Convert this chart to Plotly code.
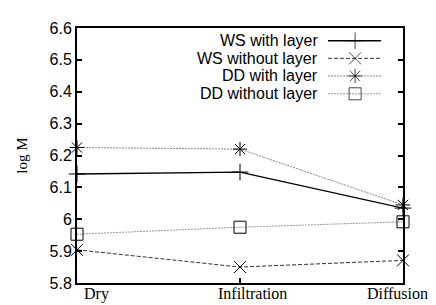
import plotly.graph_objects as go

categories = ["Dry", "Infiltration", "Diffusion"]
x_pos = [0, 1, 2]
ws_with_layer = [6.142, 6.148, 6.035]
ws_without_layer = [5.904, 5.850, 5.871]
dd_with_layer = [6.225, 6.220, 6.045]
dd_without_layer = [5.953, 5.975, 5.992]
y_ticks = [5.8, 5.9, 6.0, 6.1, 6.2, 6.3, 6.4, 6.5, 6.6]

series = [
    ("WS with layer", ws_with_layer, "solid", "black", "cross-thin-open", 1.3),
    ("WS without layer", ws_without_layer, "4px,2px", "#333333", "x-thin-open", 1),
    ("DD with layer", dd_with_layer, "2px,1px", "#888888", "asterisk-open", 1),
    ("DD without layer", dd_without_layer, "2px,1px", "#999999", "square-open", 1),
]

# legend key layout (paper coordinates)
leg_rows = [0.950, 0.881, 0.812, 0.742]
leg_text_x = 0.742
leg_line_x = [0.770, 0.853, 0.933]

fig = go.Figure()
for name, vals, dash, col, sym, lw in series:
    fig.add_trace(go.Scatter(
        x=x_pos, y=vals, name=name, mode="lines+markers",
        line=dict(color=col, width=lw, dash=dash),
        marker=dict(symbol=sym, size=12, color="black",
                    line=dict(color="black", width=1)),
        cliponaxis=False, showlegend=False,
    ))

# legend keys drawn on an overlay axis spanning the plot area
for (name, vals, dash, col, sym, lw), ry in zip(series, leg_rows):
    fig.add_trace(go.Scatter(
        x=leg_line_x, y=[ry] * 3, xaxis="x2", yaxis="y2",
        mode="lines+markers", showlegend=False, hoverinfo="skip",
        line=dict(color=col, width=lw, dash=dash),
        marker=dict(symbol=sym, size=[0, 12, 0], color="black",
                    line=dict(color="black", width=1)),
        cliponaxis=False,
    ))
    fig.add_annotation(
        x=leg_text_x, y=ry, xref="paper", yref="paper",
        text=name, showarrow=False, xanchor="right", yanchor="middle",
        borderpad=0,
        font=dict(family="Liberation Sans", size=16, color="black"),
    )

label_shift = [19, 12, -6]
for xv, lab, sh in zip(x_pos, categories, label_shift):
    fig.add_annotation(
        x=xv, y=0, xref="x", yref="paper", yshift=-1, xshift=sh,
        text=lab, showarrow=False, xanchor="center", yanchor="top",
        borderpad=0,
        font=dict(family="Liberation Serif", size=16, color="black"),
    )

fig.update_layout(
    width=428, height=297,
    margin=dict(l=69, r=33, t=15, b=22),
    plot_bgcolor="white", paper_bgcolor="white",
    showlegend=False,
    xaxis=dict(
        range=[0, 2], tickvals=x_pos, showticklabels=False,
        showgrid=False, zeroline=False,
        showline=True, linecolor="black", linewidth=2, mirror=True,
        ticks="inside", ticklen=5, tickwidth=2, tickcolor="black",
    ),
    yaxis=dict(
        range=[5.8, 6.6], tickvals=y_ticks,
        showgrid=False, zeroline=False,
        showline=True, linecolor="black", linewidth=2, mirror="ticks",
        ticks="inside", ticklen=5, tickwidth=2, tickcolor="black",
        tickfont=dict(family="Liberation Sans", size=16, color="black"),
        title=dict(text="log M", standoff=18,
                   font=dict(family="Liberation Serif", size=15, color="black")),
    ),
    xaxis2=dict(range=[0, 1], overlaying="x", visible=False, fixedrange=True),
    yaxis2=dict(range=[0, 1], overlaying="y", visible=False, fixedrange=True),
)

fig.write_html("out.html")
